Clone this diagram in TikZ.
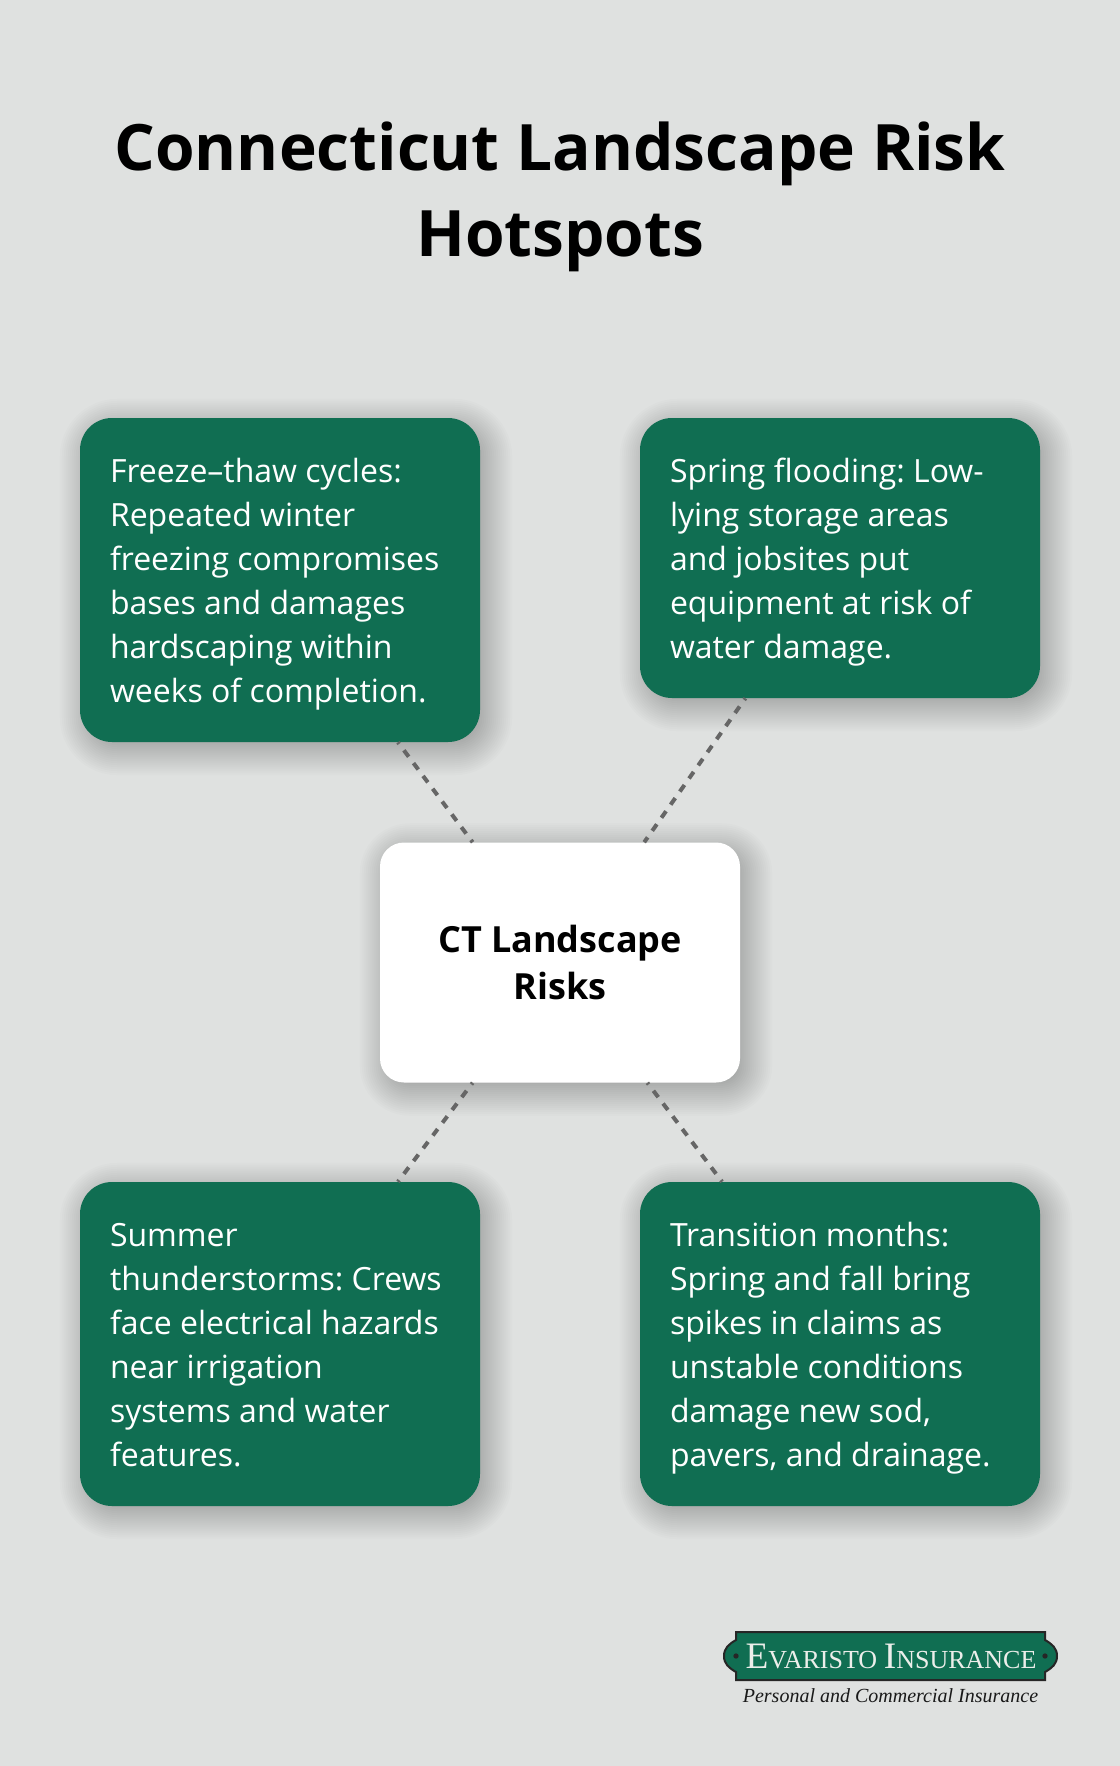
\documentclass[tikz,border=0pt]{standalone}
\usepackage{fontspec}
\setmainfont{Open Sans}
\newfontfamily\logofont{Liberation Serif}
\usetikzlibrary{backgrounds,calc}
\pgfdeclarelayer{page}
\pgfsetlayers{page,background,main}
\definecolor{pagebg}{RGB}{223,225,224}
\definecolor{riskgreen}{RGB}{16,110,82}
\definecolor{linkgrey}{RGB}{102,102,102}
\definecolor{logotext}{RGB}{236,238,234}
\tikzset{
  riskbox/.style={rectangle,rounded corners=24pt,fill=riskgreen,text=white,minimum width=300pt,
    inner sep=0pt,text width=255pt,align=flush left,font=\fontsize{24}{33}\selectfont,
    execute at begin node={\frenchspacing\rule{0pt}{28pt}},execute at end node=\strut},
  hubbox/.style={rectangle,rounded corners=18pt,fill=white,text=black,minimum width=270pt,minimum height=180pt,
    align=center,font=\fontsize{27}{35.5}\selectfont\bfseries},
  link/.style={draw=linkgrey,line width=3pt,dash pattern=on 6pt off 6pt,dash phase=4.5pt}
}
\begin{document}
\begin{tikzpicture}[x=0.75pt,y=-0.75pt]
\begin{pgfonlayer}{page}
\fill[pagebg] (0,0) rectangle (1120,1766);
\end{pgfonlayer}
\useasboundingbox (0,0) rectangle (1120,1766);
\node[align=center,font=\fontsize{48}{65}\selectfont\bfseries] (title) at (560,197) {Connecticut Landscape Risk\\Hotspots};
%
\node[riskbox,minimum height=243pt] (freeze) at (280,580) {Freeze–thaw cycles:\\Repeated winter\\freezing compromises\\bases and damages\\hardscaping within\\weeks of completion.};
\node[riskbox,minimum height=210pt] (flood) at (840,558) {Spring flooding: Low-\\lying storage areas\\and jobsites put\\equipment at risk of\\water damage.};
\node[riskbox,minimum height=243pt] (storm) at (280,1344) {Summer\\thunderstorms: Crews\\face electrical hazards\\near irrigation\\systems and water\\features.};
\node[riskbox,minimum height=243pt] (months) at (840,1344) {Transition months:\\Spring and fall bring\\spikes in claims as\\unstable conditions\\damage new sod,\\pavers, and drainage.};
\node[hubbox] (hub) at (560,962.5) {CT Landscape\\Risks};
%
\draw[link] (freeze.-54) -- (hub.126);
\draw[link] (flood.-124) -- (hub.55.7);
\draw[link] (storm.54) -- (hub.234);
\draw[link] (months.126) -- (hub.-54);
%% soft shadows
\begin{scope}[on background layer]
\foreach \n/\r in {freeze/24,flood/24,storm/24,months/24,hub/18}
  \foreach \d in {-26,-24,...,26} {
    \pgfmathsetmacro{\rr}{max(\r+0.75*\d,1)}
    \fill[black,opacity=.012,rounded corners=\rr pt]
      ($(\n.south west)+(6-\d,7+\d)$) rectangle ($(\n.north east)+(6+\d,7-\d)$);
  }
\end{scope}
%% logo
\draw[fill=riskgreen,draw=black!85,line width=1.5pt] (736,1632) -- (1045,1632) -- (1045,1640)
  .. controls (1052,1644) and (1057,1648) .. (1057,1656) .. controls (1057,1664) and (1052,1668) .. (1045,1672)
  -- (1045,1680) -- (736,1680) -- (736,1672)
  .. controls (729,1668) and (724,1664) .. (724,1656) .. controls (724,1648) and (729,1644) .. (736,1640) -- cycle;
\fill[black!85] (736,1656) circle (2pt) (1045,1656) circle (2pt);
\node[text=logotext,font=\logofont,inner sep=0pt] (logoname) at (891,1656)
  {{\fontsize{28}{28}\selectfont E}{\fontsize{19.5}{19.5}\selectfont VARISTO}\hspace{5pt}{\fontsize{28}{28}\selectfont I}{\fontsize{19.5}{19.5}\selectfont NSURANCE}};
\node[text=black!90,font=\logofont\itshape\fontsize{15}{15}\selectfont,inner sep=0pt] (logotag) at (890.5,1696) {Personal and Commercial Insurance};
\end{tikzpicture}
\end{document}
